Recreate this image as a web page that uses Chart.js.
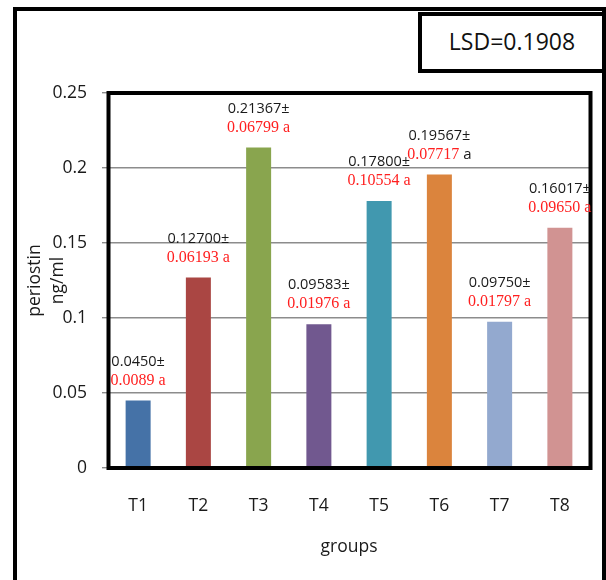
<!DOCTYPE html>
<html>
<head>
<meta charset="utf-8">
<script src="https://cdn.jsdelivr.net/npm/chart.js@4/dist/chart.umd.min.js"></script>
<style>
  html, body { margin:0; padding:0; background:#fff; overflow:hidden; }
  #page { position:relative; width:606px; height:580px; overflow:hidden; }
  #frame { position:absolute; left:13px; top:7px; width:593px; height:620px; border:4px solid #000; box-sizing:border-box; }
  #lsd { position:absolute; left:418px; top:12px; width:188px; height:61px; border:4px solid #000; box-sizing:border-box;
         font:23px "Open Sans", sans-serif; color:#111; display:flex; align-items:center; justify-content:center; padding-bottom:4px; background:#fff; }
  canvas { position:absolute; left:0; top:0; }
</style>
</head>
<body>
<div id="page">
  <div id="frame"></div>
  <canvas id="graph" width="606" height="580"></canvas>
  <div id="lsd">LSD=0.1908</div>
</div>
<script>
/* données */
const groupes = ['T1', 'T2', 'T3', 'T4', 'T5', 'T6', 'T7', 'T8'];
const moyennes = [0.045, 0.127, 0.21367, 0.09583, 0.178, 0.19567, 0.0975, 0.16017];
const moyTexte = ['0.0450', '0.12700', '0.21367', '0.09583', '0.17800', '0.19567', '0.09750', '0.16017'];
const etTexte = ['0.0089', '0.06193', '0.06799', '0.01976', '0.10554', '0.07717', '0.01797', '0.09650'];
const lettres = ['a', 'a', 'a', 'a', 'a', 'a', 'a', 'a'];
const graduations = [0, 0.05, 0.1, 0.15, 0.2, 0.25];
const couleurs = ['#4572A7', '#AA4643', '#89A54E', '#71588F', '#4198AF', '#DB843D', '#93A9CF', '#D19392'];
const lettreNoire = ['T6'];   /* la lettre du groupe T6 est en noir dans l'original */

const SANS = '"Open Sans", sans-serif';
const SERIF = '"Liberation Serif", "Times New Roman", serif';

/* cadre noir épais autour de la zone de tracé */
const cadre = {
  id: 'cadre',
  afterDatasetsDraw(chart){
    const { ctx, chartArea: a } = chart;
    ctx.save();
    ctx.strokeStyle = '#000'; ctx.lineWidth = 4;
    ctx.strokeRect(a.left + 0.5, a.top, a.right - a.left, a.bottom - a.top);
    ctx.restore();
  }
};

/* étiquettes « moyenne± / écart-type lettre » au-dessus des barres */
const etiquettes = {
  id: 'etiquettes',
  afterDatasetsDraw(chart){
    const { ctx } = chart;
    const meta = chart.getDatasetMeta(0);
    ctx.save();
    ctx.textBaseline = 'middle';
    meta.data.forEach((bar, i) => {
      const x = bar.x, y = bar.y;
      ctx.textAlign = 'center';
      ctx.font = '14.5px ' + SANS; ctx.fillStyle = '#1a1a1a';
      ctx.fillText(moyTexte[i] + '±', x, y - 39);

      const noir = lettreNoire.includes(groupes[i]);
      const fR = '16px ' + SERIF;
      const fL = noir ? '15px ' + SANS : fR;
      ctx.font = fR; const wR = ctx.measureText(etTexte[i] + ' ').width;
      ctx.font = fL; const wL = ctx.measureText(lettres[i]).width;
      const x0 = x - (wR + wL) / 2;
      ctx.textAlign = 'left';
      ctx.font = fR; ctx.fillStyle = '#ff1f1f';
      ctx.fillText(etTexte[i] + ' ', x0, y - 20);
      ctx.font = fL; ctx.fillStyle = noir ? '#1a1a1a' : '#ff1f1f';
      ctx.fillText(lettres[i], x0 + wR, y - 20);
    });
    ctx.restore();
  }
};

new Chart(document.getElementById('graph'), {
  type: 'bar',
  data: { labels: groupes, datasets: [
    { data: moyennes, backgroundColor: couleurs, borderWidth: 0, barPercentage: 0.415, categoryPercentage: 1 },
  ]},
  options: {
    responsive: false, animation: false,
    layout: { padding: { top: 93, right: 16, left: 0, bottom: 0 } },
    plugins: { legend: { display: false }, tooltip: { enabled: false } },
    scales: {
      x: {
        afterFit: s => { s.height = 112; },
        grid: { display: false }, border: { display: false },
        ticks: { color: '#1a1a1a', font: { family: SANS, size: 17.5 }, padding: 20 },
        title: { display: true, text: 'groups', color: '#1a1a1a', font: { family: SANS, size: 17.5 }, padding: { top: 0, bottom: 22 } },
      },
      y: {
        min: 0, max: 0.25,
        afterFit: s => { s.width = 108; },
        afterBuildTicks: s => { s.ticks = graduations.map(v => ({ value: v })); },
        grid: { color: '#8c8c8c', lineWidth: 1.4, tickLength: 6 },
        border: { display: false },
        ticks: { color: '#1a1a1a', font: { family: SANS, size: 17.5 }, padding: 15, callback: v => String(+v.toFixed(2)) },
        title: { display: true, text: ['periostin', 'ng/ml'], color: '#1a1a1a', font: { family: SANS, size: 17.5, lineHeight: 1.32 }, padding: { top: 23, bottom: 0 } },
      },
    },
  },
  plugins: [cadre, etiquettes],
});
</script>
</body>
</html>
